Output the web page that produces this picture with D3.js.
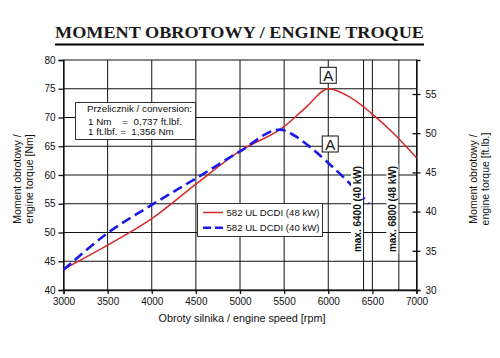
<!DOCTYPE html>
<html><head><meta charset="utf-8">
<script src="https://cdn.jsdelivr.net/npm/d3@7"></script>
<style>body{margin:0;background:#fff}svg{display:block}text{font-family:"Liberation Sans",Arial,sans-serif}</style>
</head><body>
<script>
const title = "MOMENT OBROTOWY / ENGINE TROQUE";
const rpmTicks = [3000,3500,4000,4500,5000,5500,6000,6500,7000];
const nmTicks = [40,45,50,55,60,65,70,75,80];
const ftlbTicks = [30,35,40,45,50,55];
const maxLines = [6400, 6800];
const maxLabels = ["max. 6400 (40 kW)", "max. 6800 (48 kW)"];
const seriesNames = ["582 UL DCDI (48 kW)", "582 UL DCDI (40 kW)"];
const rpm48 = [3000,3500,4000,4500,5000,5500,5750,6000,6250,6500,6750,7000];
const nm48  = [43.6,47.8,52.4,58.4,64.2,68.4,71.8,75.0,73.5,70.6,67.1,63.0];
const rpm40 = [3000,3500,4000,4500,5000,5450,5600,5800,6000,6200,6460];
const nm40  = [43.5,49.9,54.8,59.4,64.1,67.9,67.0,64.8,62.1,59.2,55.0];
const markA = [[6000,75],[6000,63.5]];
const convLines = ["Przelicznik / conversion:","1 Nm    =  0,737 ft.lbf.","1 ft.lbf. =  1,356 Nm"];

const W=500,H=358;
const svg=d3.select("body").append("svg").attr("width",W).attr("height",H);
const x=d3.scaleLinear().domain([3000,7000]).range([63.5,416.5]);
const y=d3.scaleLinear().domain([40,80]).range([290,60]);
const yR=d3.scaleLinear().domain([30,59.34]).range([290,60]);

// title
svg.append("text").attr("x",55).attr("y",38).attr("textLength",369).attr("lengthAdjust","spacingAndGlyphs")
  .style("font-family","'Liberation Serif',serif").style("font-size","16.5px").style("font-weight","bold").attr("fill","#1a1a1a").text(title);
svg.append("line").attr("x1",55).attr("x2",424).attr("y1",44.5).attr("y2",44.5).attr("stroke","#000").attr("stroke-width",2);

// grid
const g=svg.append("g");
g.selectAll(".gv").data(rpmTicks.slice(1,-1).concat(maxLines)).join("line")
  .attr("x1",d=>x(d)).attr("x2",d=>x(d)).attr("y1",y(80)).attr("y2",y(40)).attr("stroke","#111").attr("stroke-width",1);
g.selectAll(".gh").data(nmTicks.slice(1,-1)).join("line")
  .attr("x1",x(3000)).attr("x2",x(7000)).attr("y1",d=>y(d)).attr("y2",d=>y(d)).attr("stroke","#111").attr("stroke-width",1);
svg.append("rect").attr("x",x(3000)).attr("y",y(80)).attr("width",x(7000)-x(3000)).attr("height",y(40)-y(80))
  .attr("fill","none").attr("stroke","#111").attr("stroke-width",1);

// axes
const ax=svg.append("g").attr("transform",`translate(0,${y(40)})`).call(d3.axisBottom(x).tickValues(rpmTicks).tickSize(4).tickPadding(4).tickFormat(d3.format("d")));
const ay=svg.append("g").attr("transform",`translate(${x(3000)},0)`).call(d3.axisLeft(y).tickValues(nmTicks).tickSize(5).tickPadding(3));
const ayR=svg.append("g").attr("transform",`translate(${x(7000)},0)`).call(d3.axisRight(yR).tickValues(ftlbTicks).tickSize(4).tickPadding(5));
ayR.selectAll(".tick line").attr("x1",-4);
[ax,ay,ayR].forEach(a=>{a.selectAll("text").style("font-size","10px").attr("fill","#111");a.selectAll("line,path").attr("stroke","#111").attr("stroke-width",1.3);});

// axis titles
svg.append("text").attr("x",242).attr("y",322).attr("text-anchor","middle").style("font-size","10.8px").attr("fill","#111").text("Obroty silnika / engine speed [rpm]");
[[17,"Moment obrotowy /"],[29,"engine torque [Nm]"]].forEach(([cx,t])=>svg.append("text").attr("transform",`translate(${cx+3.5},179) rotate(-90)`).attr("text-anchor","middle").style("font-size","10.5px").attr("fill","#111").text(t));
[[473,"Moment obrotowy /"],[485,"engine torque [ft.lb.]"]].forEach(([cx,t])=>svg.append("text").attr("transform",`translate(${cx+3.5},179) rotate(-90)`).attr("text-anchor","middle").style("font-size","10.5px").attr("fill","#111").text(t));

// lines
const line=d3.line().x(d=>x(d[0])).y(d=>y(d[1])).curve(d3.curveMonotoneX);
svg.append("path").datum(d3.zip(rpm48,nm48)).attr("d",line).attr("fill","none").attr("stroke","#d42a2a").attr("stroke-width",1.5);
svg.append("path").datum(d3.zip(rpm40,nm40)).attr("d",line).attr("fill","none").attr("stroke","#1a1ae6").attr("stroke-width",2.6).attr("stroke-dasharray","10,5");

// max labels
maxLines.forEach((m,i)=>{
  const cx=x(m)-6.5;
  svg.append("rect").attr("x",cx-6).attr("y",164).attr("width",12).attr("height",90).attr("fill","#fff");
  svg.append("text").attr("transform",`translate(${cx+3.5},209) rotate(-90)`).attr("text-anchor","middle")
    .style("font-size","10px").style("font-weight","bold").attr("fill","#111").text(maxLabels[i]);
});

// A marks
markA.forEach(([r,v],i)=>{
  const cx=x(r)+(i?2:0), cy=i?144:75.3;
  svg.append("rect").attr("x",cx-8).attr("y",cy-8).attr("width",16).attr("height",16).attr("fill","#fff").attr("stroke","#111").attr("stroke-width",1);
  svg.append("text").attr("x",cx).attr("y",cy+5.5).attr("text-anchor","middle").style("font-size","15px").attr("fill","#111").text("A");
});

// conversion box
svg.append("rect").attr("x",75.5).attr("y",102.5).attr("width",120).attr("height",37).attr("fill","#fff").attr("stroke","#333").attr("stroke-width",1);
[[87,111.5],[88,125],[88,135]].forEach(([tx,ty],i)=>
  svg.append("text").attr("x",tx).attr("y",ty).attr("xml:space","preserve").style("white-space","pre").style("font-size","9.8px").attr("fill","#111").text(convLines[i]));

// legend
svg.append("rect").attr("x",197.5).attr("y",203.5).attr("width",125).attr("height",33).attr("fill","#fff").attr("stroke","#333").attr("stroke-width",1);
const lg=[["#d42a2a",1.5,null],["#1a1ae6",2.6,"8,4"]];
lg.forEach(([c,w,da],i)=>{
  const ly=212.5+i*15.3;
  const l=svg.append("line").attr("x1",203).attr("x2",223).attr("y1",ly).attr("y2",ly).attr("stroke",c).attr("stroke-width",w);
  if(da) l.attr("stroke-dasharray",da);
  svg.append("text").attr("x",226.5).attr("y",ly+3.5).style("font-size","9.6px").attr("fill","#111").text(seriesNames[i]);
});
</script>
</body></html>
